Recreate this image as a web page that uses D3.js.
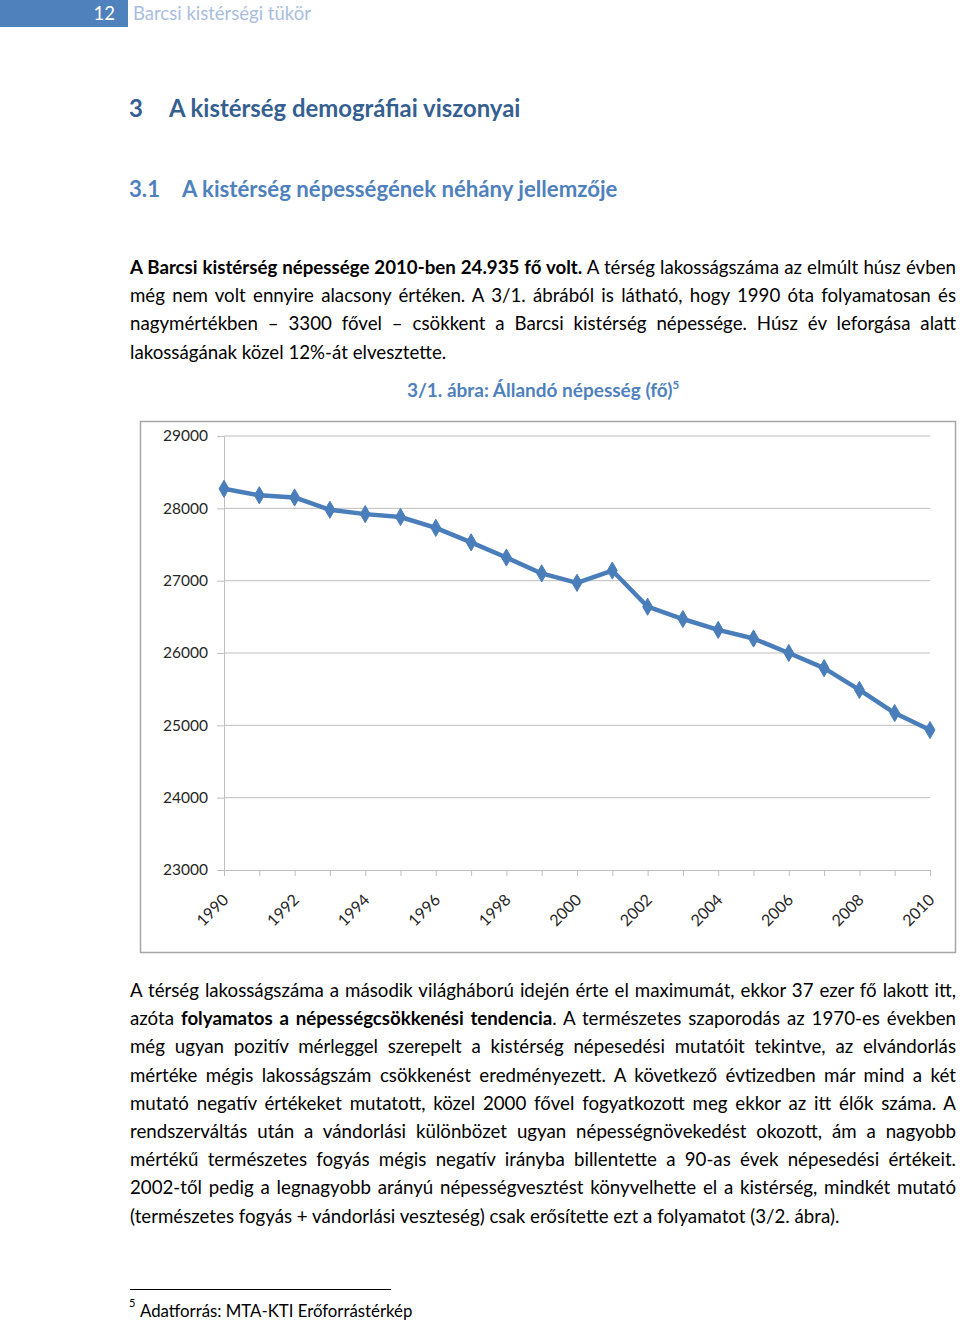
<!DOCTYPE html>
<html>
<head>
<meta charset="utf-8">
<script src="https://cdn.jsdelivr.net/npm/d3@7"></script>
<style>
  html, body { margin:0; padding:0; background:#fff; }
  body { width:960px; height:1321px; position:relative; overflow:hidden; font-family: Lato, "Open Sans", sans-serif; }
  .line { position:absolute; left:130px; width:826px; font-size:18.7px; line-height:20px; color:#000; white-space:nowrap; text-align:justify; text-align-last:justify; }
  .line.last { text-align-last:left; }
  .abs { position:absolute; white-space:nowrap; }
  svg { position:absolute; left:0; top:0; }
</style>
</head>
<body>
<div class="abs" style="left:0;top:0;width:128px;height:27px;background:#4f81bd;"></div>
<div class="abs" style="left:0;top:2px;width:115px;text-align:right;color:#fff;font-size:18.5px;">12</div>
<div class="abs" style="left:133px;top:2px;color:#a9bedf;font-size:18.5px;">Barcsi kistérségi tükör</div>

<div class="abs" style="left:129px;top:93px;color:#365f91;font-size:23.9px;font-weight:bold;">3</div>
<div class="abs" style="left:169px;top:93px;color:#365f91;font-size:23.9px;font-weight:bold;">A kistérség demográfiai viszonyai</div>
<div class="abs" style="left:129px;top:175px;color:#4f81bd;font-size:22.2px;font-weight:bold;">3.1</div>
<div class="abs" style="left:182px;top:175px;color:#4f81bd;font-size:22.2px;font-weight:bold;">A kistérség népességének néhány jellemzője</div>

<div id="p1"></div>
<div id="p2"></div>

<div class="abs" style="left:130px;top:1289px;width:261px;height:1px;background:#000;"></div>
<div class="abs" style="left:129px;top:1296px;font-size:11px;">5</div>
<div class="abs" style="left:140px;top:1300px;font-size:16.8px;">Adatforrás: MTA-KTI Erőforrástérkép</div>

<svg id="chart" width="960" height="1321"></svg>

<script>
const years = [1990,1991,1992,1993,1994,1995,1996,1997,1998,1999,2000,2001,2002,2003,2004,2005,2006,2007,2008,2009,2010];
const population = [28270,28180,28150,27980,27920,27880,27730,27530,27320,27100,26970,27140,26640,26470,26320,26200,26000,25790,25490,25170,24935];
const yTicks = [23000,24000,25000,26000,27000,28000,29000];
const xLabelYears = [1990,1992,1994,1996,1998,2000,2002,2004,2006,2008,2010];

const para1 = [
  '<b>A Barcsi kistérség népessége 2010-ben 24.935 fő volt.</b> A térség lakosságszáma az elmúlt húsz évben',
  'még nem volt ennyire alacsony értéken. A 3/1. ábrából is látható, hogy 1990 óta folyamatosan és',
  'nagymértékben – 3300 fővel – csökkent a Barcsi kistérség népessége. Húsz év leforgása alatt',
  'lakosságának közel 12%-át elvesztette.'
];
const para2 = [
  'A térség lakosságszáma a második világháború idején érte el maximumát, ekkor 37 ezer fő lakott itt,',
  'azóta <b>folyamatos a népességcsökkenési tendencia</b>. A természetes szaporodás az 1970-es években',
  'még ugyan pozitív mérleggel szerepelt a kistérség népesedési mutatóit tekintve, az elvándorlás',
  'mértéke mégis lakosságszám csökkenést eredményezett. A következő évtizedben már mind a két',
  'mutató negatív értékeket mutatott, közel 2000 fővel fogyatkozott meg ekkor az itt élők száma. A',
  'rendszerváltás után a vándorlási különbözet ugyan népességnövekedést okozott, ám a nagyobb',
  'mértékű természetes fogyás mégis negatív irányba billentette a 90-as évek népesedési értékeit.',
  '2002-től pedig a legnagyobb arányú népességvesztést könyvelhette el a kistérség, mindkét mutató',
  '(természetes fogyás + vándorlási veszteség) csak erősítette ezt a folyamatot (3/2. ábra).'
];

function addPara(sel, lines, top, step) {
  d3.select(sel).selectAll('div').data(lines).join('div')
    .attr('class', (d,i) => 'line' + (i === lines.length-1 ? ' last' : ''))
    .style('top', (d,i) => (top + i*step) + 'px')
    .html(d => d);
}
addPara('#p1', para1, 257, 28.2);
addPara('#p2', para2, 980, 28.2);

const svg = d3.select('#chart');

// chart title
const title = svg.append('text').attr('x', 543).attr('y', 397).attr('text-anchor','middle')
  .attr('fill','#4f81bd').style('font-size','19px').style('font-weight','bold');
title.append('tspan').text('3/1. ábra: Állandó népesség (fő)');
title.append('tspan').attr('dy', -8).style('font-size','11.5px').text('5');

// frame
svg.append('rect').attr('x',140.5).attr('y',421.5).attr('width',815).attr('height',531)
  .attr('fill','#fff').attr('stroke','#a6a6a6').attr('stroke-width',1.5);

const x = d3.scaleLinear().domain([1990,2010]).range([224,930]);
const y = d3.scaleLinear().domain([23000,29000]).range([870,436]);

// gridlines
svg.append('g').selectAll('line').data(yTicks.filter(v => v > 23000)).join('line')
  .attr('x1', 224).attr('x2', 930).attr('y1', d => y(d)).attr('y2', d => y(d))
  .attr('stroke','#bfbfbf').attr('stroke-width',1);

// y axis
const yAxis = svg.append('g').attr('transform','translate(224,0)')
  .call(d3.axisLeft(y).tickValues(yTicks).tickSize(7).tickPadding(9).tickFormat(d3.format('d')));
yAxis.select('.domain').attr('stroke','#bfbfbf');
yAxis.selectAll('.tick line').attr('stroke','#bfbfbf');
yAxis.selectAll('text').style('font-family','Lato, sans-serif').style('font-size','15.5px').attr('fill','#262626');

// x axis
const xAxis = svg.append('g').attr('transform','translate(0,870)')
  .call(d3.axisBottom(x).tickValues(years).tickSize(6).tickFormat(d => xLabelYears.includes(d) ? String(d) : ''));
xAxis.select('.domain').attr('stroke','#bfbfbf');
xAxis.selectAll('.tick line').attr('stroke','#bfbfbf');
xAxis.selectAll('text').style('font-family','Lato, sans-serif').style('font-size','16px').attr('fill','#262626')
  .attr('text-anchor','end').attr('y',0).attr('dy','0.35em')
  .attr('transform','translate(1,27) rotate(-45)');

// line
const line = d3.line().x((d,i) => x(years[i])).y(d => y(d));
svg.append('path').datum(population).attr('d', line)
  .attr('fill','none').attr('stroke','#4a7ebb').attr('stroke-width',4.5).attr('stroke-linejoin','round');

// markers
svg.append('g').selectAll('path').data(population).join('path')
  .attr('d', d3.symbol().type(d3.symbolDiamond).size(85))
  .attr('transform', (d,i) => `translate(${x(years[i])},${y(d)})`)
  .attr('fill','#4a7ebb').attr('stroke','#4a7ebb').attr('stroke-width',1);
</script>
</body>
</html>
